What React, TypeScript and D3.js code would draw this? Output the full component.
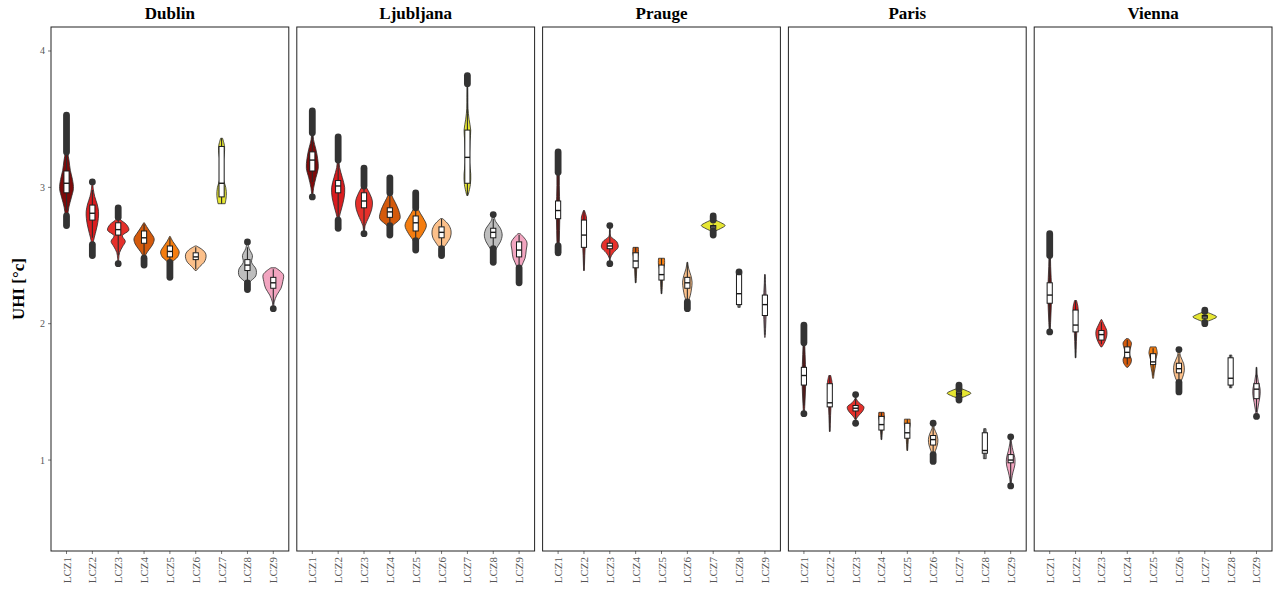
import React, { useEffect, useRef } from 'react';
import * as d3 from 'd3';

const cities = ['Dublin', 'Ljubljana', 'Prauge', 'Paris', 'Vienna'];
const lczClasses = ['LCZ1', 'LCZ2', 'LCZ3', 'LCZ4', 'LCZ5', 'LCZ6', 'LCZ7', 'LCZ8', 'LCZ9'];
const lczColors = ['#7d0a0a', '#d91c1f', '#e5302b', '#d45a0c', '#f47d10', '#fcc08a', '#e6e632', '#bebebe', '#f2a5c0'];
const yTicks = [1, 2, 3, 4];

// box stats: [whisker low, q1, median, q3, whisker high]
const dublinBox = [
  [2.83, 2.96, 3.03, 3.12, 3.24], [2.63, 2.76, 2.81, 2.87, 2.98], [2.5, 2.65, 2.69, 2.74, 2.77],
  [2.49, 2.59, 2.63, 2.68, 2.73], [2.46, 2.49, 2.53, 2.57, 2.63], [2.4, 2.47, 2.49, 2.52, 2.56],
  [2.88, 2.93, 3.03, 3.3, 3.36], [2.32, 2.39, 2.43, 2.47, 2.56], [2.14, 2.26, 2.3, 2.34, 2.4],
];
const ljubljanaBox = [
  [3.04, 3.12, 3.2, 3.26, 3.38], [2.78, 2.96, 3.01, 3.05, 3.18], [2.68, 2.85, 2.9, 2.96, 3.0],
  [2.74, 2.78, 2.82, 2.85, 2.94], [2.63, 2.68, 2.74, 2.79, 2.84], [2.56, 2.63, 2.67, 2.71, 2.77],
  [2.94, 3.03, 3.22, 3.42, 3.74], [2.56, 2.63, 2.67, 2.7, 2.77], [2.42, 2.49, 2.54, 2.6, 2.65],
];
const pragueBox = [
  [2.58, 2.77, 2.83, 2.9, 3.1], [2.39, 2.56, 2.65, 2.76, 2.83], [2.44, 2.55, 2.57, 2.59, 2.72],
  [2.3, 2.41, 2.46, 2.52, 2.56], [2.22, 2.32, 2.36, 2.43, 2.48], [2.17, 2.26, 2.3, 2.34, 2.45],
  [2.69, 2.7, 2.71, 2.72, 2.73], [2.12, 2.14, 2.22, 2.37, 2.38], [1.92, 2.06, 2.14, 2.21, 2.36],
];
const parisBox = [
  [1.4, 1.55, 1.62, 1.68, 1.85], [1.21, 1.39, 1.42, 1.56, 1.62], [1.3, 1.36, 1.38, 1.4, 1.46],
  [1.15, 1.22, 1.26, 1.32, 1.35], [1.07, 1.16, 1.2, 1.27, 1.3], [1.05, 1.11, 1.15, 1.18, 1.24],
  [1.47, 1.48, 1.49, 1.5, 1.51], [1.01, 1.05, 1.07, 1.2, 1.23], [0.83, 0.98, 1.0, 1.04, 1.15],
];
const viennaBox = [
  [1.95, 2.15, 2.21, 2.3, 2.48], [1.75, 1.94, 1.99, 2.1, 2.17], [1.85, 1.88, 1.92, 1.95, 2.01],
  [1.7, 1.75, 1.79, 1.83, 1.88], [1.62, 1.7, 1.72, 1.78, 1.82], [1.59, 1.64, 1.67, 1.71, 1.78],
  [2.03, 2.04, 2.05, 2.06, 2.07], [1.53, 1.55, 1.6, 1.75, 1.77], [1.35, 1.45, 1.52, 1.56, 1.68],
];

// violin: [min, max, relative density from min to max ...]
const dublinViolin = [
  [2.72, 3.53, 0.05, 0.1, 0.2, 0.4, 0.58, 0.5, 0.32, 0.22, 0.1, 0.06, 0.05, 0.04, 0.03],
  [2.5, 3.04, 0.03, 0.05, 0.1, 0.25, 0.4, 0.5, 0.52, 0.4, 0.2, 0.08, 0.03],
  [2.44, 2.85, 0.03, 0.05, 0.12, 0.35, 0.6, 0.35, 0.9, 0.7, 0.15, 0.06, 0.03],
  [2.43, 2.74, 0.03, 0.06, 0.15, 0.45, 0.75, 0.85, 0.6, 0.3, 0.03],
  [2.34, 2.64, 0.03, 0.04, 0.06, 0.2, 0.65, 0.78, 0.55, 0.25, 0.03],
  [2.39, 2.57, 0.05, 0.35, 0.7, 0.85, 0.85, 0.6, 0.05],
  [2.88, 3.36, 0.3, 0.4, 0.35, 0.15, 0.12, 0.12, 0.22, 0.25, 0.08],
  [2.25, 2.6, 0.03, 0.15, 0.7, 0.72, 0.35, 0.42, 0.15, 0.03],
  [2.11, 2.41, 0.03, 0.08, 0.3, 0.65, 0.8, 0.85, 0.2],
];
const ljubljanaViolin = [
  [2.93, 3.56, 0.03, 0.12, 0.3, 0.5, 0.45, 0.3, 0.1, 0.05, 0.03, 0.02],
  [2.7, 3.37, 0.03, 0.08, 0.3, 0.5, 0.55, 0.35, 0.12, 0.05, 0.03, 0.02],
  [2.66, 3.14, 0.03, 0.1, 0.4, 0.65, 0.7, 0.45, 0.1, 0.04, 0.02],
  [2.65, 3.07, 0.03, 0.15, 0.85, 0.75, 0.45, 0.12, 0.04, 0.02],
  [2.54, 2.96, 0.03, 0.15, 0.6, 0.9, 0.6, 0.2, 0.05, 0.02],
  [2.5, 2.77, 0.03, 0.1, 0.45, 0.75, 0.8, 0.6, 0.1],
  [2.94, 3.82, 0.05, 0.25, 0.28, 0.18, 0.18, 0.22, 0.28, 0.14, 0.05, 0.04, 0.03, 0.02],
  [2.45, 2.8, 0.03, 0.06, 0.25, 0.6, 0.75, 0.6, 0.2, 0.03],
  [2.3, 2.66, 0.03, 0.06, 0.2, 0.5, 0.6, 0.65, 0.1],
];
const pragueViolin = [
  [2.52, 3.26, 0.06, 0.1, 0.12, 0.14, 0.14, 0.12, 0.1, 0.1, 0.08, 0.06],
  [2.39, 2.83, 0.03, 0.05, 0.07, 0.1, 0.11, 0.11, 0.13, 0.22, 0.04],
  [2.44, 2.72, 0.02, 0.04, 0.3, 0.7, 0.6, 0.08, 0.03, 0.02],
  [2.3, 2.56, 0.03, 0.06, 0.08, 0.1, 0.14, 0.24, 0.22],
  [2.22, 2.48, 0.03, 0.06, 0.08, 0.1, 0.15, 0.26, 0.25],
  [2.11, 2.45, 0.03, 0.08, 0.25, 0.35, 0.4, 0.3, 0.12, 0.03],
  [2.65, 2.79, 0.02, 0.1, 0.6, 1.0, 0.6, 0.1, 0.02],
  [2.12, 2.38, 0.1, 0.12, 0.12, 0.12, 0.12, 0.1],
  [1.9, 2.36, 0.03, 0.06, 0.09, 0.12, 0.12, 0.09, 0.05, 0.03],
];
const parisViolin = [
  [1.34, 1.99, 0.04, 0.08, 0.12, 0.15, 0.15, 0.13, 0.1, 0.07, 0.05, 0.03],
  [1.21, 1.62, 0.03, 0.05, 0.07, 0.1, 0.11, 0.12, 0.2, 0.08],
  [1.27, 1.48, 0.02, 0.05, 0.3, 0.6, 0.7, 0.3, 0.05, 0.02],
  [1.15, 1.35, 0.03, 0.06, 0.09, 0.12, 0.24, 0.22],
  [1.07, 1.3, 0.03, 0.06, 0.09, 0.12, 0.24, 0.24],
  [0.99, 1.27, 0.03, 0.06, 0.2, 0.35, 0.4, 0.3, 0.1, 0.03],
  [1.43, 1.55, 0.02, 0.1, 0.6, 1.0, 0.6, 0.1, 0.02],
  [1.01, 1.23, 0.12, 0.13, 0.12, 0.12, 0.12, 0.1],
  [0.81, 1.17, 0.03, 0.08, 0.2, 0.35, 0.35, 0.2, 0.08, 0.03],
];
const viennaViolin = [
  [1.94, 2.66, 0.04, 0.08, 0.12, 0.15, 0.15, 0.12, 0.08, 0.06, 0.04, 0.03],
  [1.75, 2.17, 0.03, 0.05, 0.07, 0.1, 0.11, 0.12, 0.22, 0.08],
  [1.83, 2.03, 0.05, 0.3, 0.45, 0.45, 0.25, 0.03],
  [1.68, 1.89, 0.05, 0.3, 0.35, 0.2, 0.2, 0.3, 0.35, 0.1],
  [1.6, 1.83, 0.04, 0.1, 0.2, 0.22, 0.35, 0.25],
  [1.5, 1.81, 0.03, 0.06, 0.3, 0.45, 0.4, 0.15, 0.03],
  [1.99, 2.11, 0.02, 0.1, 0.6, 1.0, 0.6, 0.1, 0.02],
  [1.53, 1.77, 0.1, 0.12, 0.12, 0.12, 0.12, 0.1],
  [1.32, 1.68, 0.03, 0.1, 0.2, 0.3, 0.3, 0.15, 0.06, 0.03],
];

// outliers: runs of overlapping points [from, to]
const dublinOutliers = [
  [[3.26, 3.53], [2.72, 2.79]], [[3.04, 3.04], [2.5, 2.58]], [[2.78, 2.85], [2.44, 2.44]],
  [[2.43, 2.48]], [[2.34, 2.45]], [], [], [[2.6, 2.6], [2.25, 2.3]], [[2.11, 2.11]],
];
const ljubljanaOutliers = [
  [[3.4, 3.56], [2.93, 2.93]], [[3.2, 3.37], [2.7, 2.76]], [[3.01, 3.14], [2.66, 2.66]],
  [[2.96, 3.07], [2.65, 2.72]], [[2.85, 2.96], [2.54, 2.61]], [[2.5, 2.55]],
  [[3.76, 3.82]], [[2.8, 2.8], [2.45, 2.55]], [[2.3, 2.41]],
];
const pragueOutliers = [
  [[3.11, 3.26], [2.52, 2.57]], [], [[2.72, 2.72], [2.44, 2.44]], [], [], [[2.11, 2.16]],
  [[2.76, 2.79], [2.65, 2.68]], [[2.38, 2.38]], [],
];
const parisOutliers = [
  [[1.86, 1.99], [1.34, 1.34]], [], [[1.48, 1.48], [1.27, 1.27]], [], [], [[1.27, 1.27], [0.99, 1.04]],
  [[1.52, 1.55], [1.44, 1.46]], [], [[1.17, 1.17], [0.81, 0.81]],
];
const viennaOutliers = [
  [[2.5, 2.66], [1.94, 1.94]], [], [], [], [], [[1.81, 1.81], [1.5, 1.57]],
  [[2.09, 2.1], [2.0, 2.01]], [], [[1.32, 1.32]],
];

const boxes = [dublinBox, ljubljanaBox, pragueBox, parisBox, viennaBox];
const violins = [dublinViolin, ljubljanaViolin, pragueViolin, parisViolin, viennaViolin];
const outliers = [dublinOutliers, ljubljanaOutliers, pragueOutliers, parisOutliers, viennaOutliers];

const width = 1274;
const height = 590;
const font = '"Liberation Serif", "Times New Roman", serif';

const App = () => {
  const ref = useRef<SVGSVGElement>(null);

  useEffect(() => {
    const svg = d3.select(ref.current);
    svg.selectAll('*').remove();

    const left = 51, right = 1272, top = 27, bottom = 551, gap = 8;
    const panelW = (right - left - gap * (cities.length - 1)) / cities.length;

    const y = d3.scaleLinear().domain([0.333, 4.176]).range([bottom, top]);

    // y title
    svg.append('text')
      .attr('transform', `translate(${18},${(top + bottom) / 2}) rotate(-90)`)
      .attr('text-anchor', 'middle')
      .attr('dominant-baseline', 'central')
      .style('font-family', font).style('font-weight', 'bold').style('font-size', '17px')
      .text('UHI [°c]');

    // y axis on first panel
    const yAxis = svg.append('g');
    yTicks.forEach(t => {
      yAxis.append('line').attr('x1', left - 3).attr('x2', left).attr('y1', y(t)).attr('y2', y(t))
        .attr('stroke', '#555').attr('stroke-width', 0.8);
      yAxis.append('text').attr('x', left - 6).attr('y', y(t)).attr('text-anchor', 'end')
        .attr('dominant-baseline', 'central')
        .style('font-family', font).style('font-size', '10px').style('fill', '#555').text(t);
    });

    cities.forEach((city, ci) => {
      const x0 = left + ci * (panelW + gap);
      const x = d3.scaleBand().domain(lczClasses).range([x0, x0 + panelW]).paddingOuter(0.1).paddingInner(0);
      const bw = x.bandwidth();
      const g = svg.append('g');

      g.append('text').attr('x', x0 + panelW / 2).attr('y', 19).attr('text-anchor', 'middle')
        .style('font-family', font).style('font-weight', 'bold').style('font-size', '17px')
        .text(city);

      lczClasses.forEach((lcz, li) => {
        const cx = (x(lcz) as number) + bw / 2;
        const [vLo, vHi, ...dens] = violins[ci][li];
        const pts = dens.map((d, i) => ({ v: vLo + (i * (vHi - vLo)) / (dens.length - 1), d }));
        const area = d3.area<any>()
          .x0(p => cx - p.d * bw * 0.46)
          .x1(p => cx + p.d * bw * 0.46)
          .y(p => y(p.v))
          .curve(d3.curveCatmullRom);
        g.append('path').attr('d', area(pts) as string)
          .attr('fill', lczColors[li]).attr('stroke', '#2b2b2b').attr('stroke-width', 0.8);

        const [wLo, q1, med, q3, wHi] = boxes[ci][li];
        const bh = bw * 0.1;
        g.append('line').attr('x1', cx).attr('x2', cx).attr('y1', y(q3)).attr('y2', y(wHi))
          .attr('stroke', '#2b2b2b').attr('stroke-width', 1.1);
        g.append('line').attr('x1', cx).attr('x2', cx).attr('y1', y(q1)).attr('y2', y(wLo))
          .attr('stroke', '#2b2b2b').attr('stroke-width', 1.1);
        g.append('rect').attr('x', cx - bh).attr('width', bh * 2)
          .attr('y', y(q3)).attr('height', Math.max(y(q1) - y(q3), 1))
          .attr('fill', 'white').attr('stroke', '#1a1a1a').attr('stroke-width', 1);
        g.append('line').attr('x1', cx - bh).attr('x2', cx + bh).attr('y1', y(med)).attr('y2', y(med))
          .attr('stroke', '#1a1a1a').attr('stroke-width', 1.4);

        outliers[ci][li].forEach(([a, b]) => {
          if (a === b) {
            g.append('circle').attr('cx', cx).attr('cy', y(a)).attr('r', 3.4).attr('fill', '#333');
          } else {
            g.append('line').attr('x1', cx).attr('x2', cx).attr('y1', y(a)).attr('y2', y(b))
              .attr('stroke', '#333').attr('stroke-width', 6.8).attr('stroke-linecap', 'round');
          }
        });

        // x ticks
        g.append('line').attr('x1', cx).attr('x2', cx).attr('y1', bottom).attr('y2', bottom + 3)
          .attr('stroke', '#555').attr('stroke-width', 0.8);
        g.append('text')
          .attr('transform', `translate(${cx},${bottom + 6}) rotate(-90)`)
          .attr('text-anchor', 'end').attr('dominant-baseline', 'central')
          .style('font-family', font).style('font-size', '11px').style('fill', '#555')
          .text(lcz);
      });

      g.append('rect').attr('x', x0).attr('y', top).attr('width', panelW).attr('height', bottom - top)
        .attr('fill', 'none').attr('stroke', '#222').attr('stroke-width', 1);
    });
  }, []);

  return (
    <svg ref={ref} width={width} height={height}
      style={{ position: 'absolute', left: 0, top: 0, display: 'block', background: 'white' }} />
  );
};

export default App;
